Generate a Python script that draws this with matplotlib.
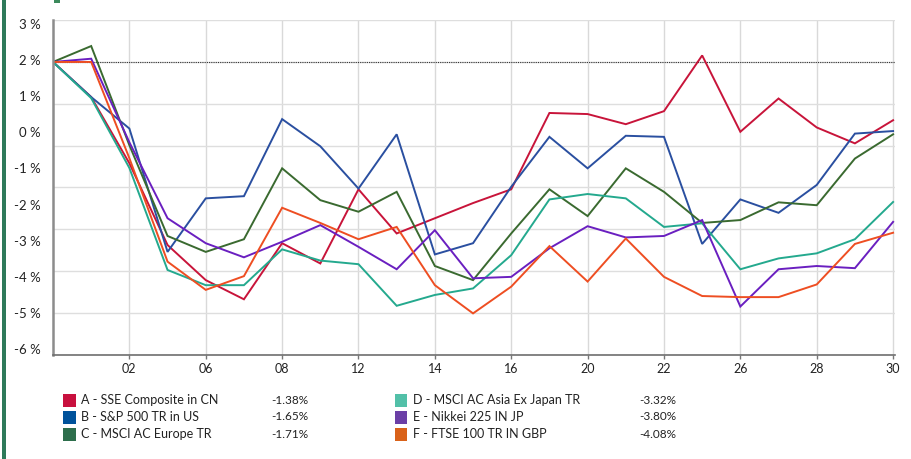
"""Monthly index performance line chart with side legend table."""

import matplotlib

matplotlib.use("Agg")

import matplotlib.pyplot as plt
from matplotlib.patches import Rectangle
from matplotlib.transforms import ScaledTranslation
import numpy as np

plt.rcParams["font.family"] = ["Lato", "DejaVu Sans"]
plt.rcParams["axes.unicode_minus"] = False

# trading-day labels shown under every second point
x_labels = ["02", "06", "08", "12", "14", "16", "20", "22", "26", "28", "30"]
y_labels = ["3 %", "2 %", "1 %", "0 %", "-1 %", "-2 %", "-3 %", "-4 %", "-5 %", "-6 %"]
y_label_values = [3, 2, 1, 0, -1, -2, -3, -4, -5, -6]

sse_cn = [2.00, 1.03, -0.80, -3.06, -4.03, -4.56, -3.01, -3.57, -1.52, -2.74, -2.32, -1.90,
          -1.52, 0.59, 0.56, 0.28, 0.64, 2.18, 0.07, 0.99, 0.19, -0.25, 0.39]
sp500_us = [2.00, 1.03, 0.16, -3.25, -1.77, -1.71, 0.42, -0.33, -1.50, 0.00, -3.32, -3.01,
            -1.45, -0.07, -0.94, -0.04, -0.07, -3.03, -1.80, -2.17, -1.40, 0.02, 0.09]
msci_europe = [2.00, 2.44, -0.30, -2.81, -3.25, -2.90, -0.94, -1.82, -2.14, -1.59, -3.64, -4.03,
               -2.74, -1.52, -2.26, -0.94, -1.59, -2.45, -2.37, -1.88, -1.96, -0.67, 0.00]
msci_asia = [2.00, 1.00, -0.93, -3.75, -4.17, -4.17, -3.18, -3.49, -3.59, -4.74, -4.44, -4.26,
             -3.34, -1.80, -1.65, -1.77, -2.56, -2.46, -3.73, -3.43, -3.29, -2.90, -1.87]
nikkei_jp = [2.00, 2.09, -0.22, -2.32, -3.01, -3.40, -2.97, -2.51, -3.11, -3.73, -2.65, -3.98,
             -3.94, -3.15, -2.54, -2.85, -2.81, -2.37, -4.76, -3.73, -3.64, -3.70, -2.42]
ftse_gbp = [2.00, 2.00, -0.66, -3.52, -4.30, -3.92, -2.03, -2.45, -2.90, -2.56, -4.17, -4.95,
            -4.21, -3.09, -4.07, -2.88, -3.94, -4.47, -4.50, -4.50, -4.15, -3.03, -2.72]

names = [
    "A - SSE Composite in CN",
    "B - S&P 500 TR in US",
    "C - MSCI AC Europe TR",
    "D - MSCI AC Asia Ex Japan TR",
    "E - Nikkei 225 IN JP",
    "F - FTSE 100 TR IN GBP",
]
totals = ["-1.38%", "-1.65%", "-1.71%", "-3.32%", "-3.80%", "-4.08%"]
series = [sse_cn, sp500_us, msci_europe, msci_asia, nikkei_jp, ftse_gbp]
swatch_colors = ["#C8103E", "#00529B", "#2D6E4C", "#52C0A8", "#6B3FA6", "#D9621A"]
line_colors = ["#C8143A", "#2A4FA0", "#3A6A30", "#24A98E", "#6A1FC0", "#EE4E22"]

fig = plt.figure(figsize=(9.12, 4.59), dpi=100)
ax = fig.add_axes([53 / 912, 1 - 355 / 459, 842 / 912, 335 / 459])

x = np.arange(len(sse_cn))
for values, color in zip(series, line_colors):
    ax.plot(x, values, color=color, linewidth=1.4, solid_joinstyle="miter")

ax.axhline(2, color="#333333", linewidth=0.8, linestyle=(0, (1, 1)), zorder=1)

ax.set_xlim(0, 22.05)
ax.set_ylim(-6.10, 3.16)

ax.set_xticks(x[2::2])
ax.set_xticklabels(x_labels)
ax.set_yticks(y_label_values)
ax.set_yticklabels(y_labels)
ax.set_yticks(np.linspace(-6.10, 3.16, 9), minor=True)

ax.grid(axis="x", color="#D9D9D9", linewidth=1.0)
ax.grid(axis="y", which="minor", color="#DEDEDE", linewidth=1.0)
ax.set_axisbelow(True)

ax.tick_params(axis="y", which="both", length=0, pad=9, labelsize=9.5, labelcolor="#222222")
ax.tick_params(axis="x", length=3, width=1, color="#777777", pad=3, labelsize=9, labelcolor="#222222")
ax.tick_params(axis="y", which="minor", left=False)

# y labels sit a touch above their tick positions
lift = ScaledTranslation(0, 2 / 100, fig.dpi_scale_trans)
for label in ax.get_yticklabels():
    label.set_transform(label.get_transform() + lift)

for side in ("top", "right"):
    ax.spines[side].set_visible(False)
ax.spines["left"].set_color("#8C8C8C")
ax.spines["left"].set_linewidth(1.8)
ax.spines["bottom"].set_color("#6E6E6E")
ax.spines["bottom"].set_linewidth(1.2)

# legend table below the plot, two columns of three rows
rows_y = [400, 417, 434]
col_box_x = [63, 395]
col_value_right = [308, 676]
for i, (name, total, color) in enumerate(zip(names, totals, swatch_colors)):
    col, row = divmod(i, 3)
    yc = 1 - rows_y[row] / 459
    fig.patches.append(Rectangle((col_box_x[col] / 912, yc - 6.5 / 459), 12.5 / 912, 13 / 459,
                                 transform=fig.transFigure, facecolor=color, edgecolor="none"))
    fig.text((col_box_x[col] + 18) / 912, yc, name, fontsize=9, color="#222222", va="center", ha="left")
    fig.text(col_value_right[col] / 912, yc, total, fontsize=8.5, color="#222222", va="center", ha="right")

# green frame edge on the left and the clipped header mark above the plot
fig.patches.append(Rectangle((2.5 / 912, 0), 3.5 / 912, 1, transform=fig.transFigure,
                             facecolor="#2E7A5A", edgecolor="none"))
fig.patches.append(Rectangle((54 / 912, 1 - 3 / 459), 6 / 912, 3 / 459, transform=fig.transFigure,
                             facecolor="#3C8A5C", edgecolor="none"))

fig.savefig("out.png", dpi=100)
plt.close(fig)
